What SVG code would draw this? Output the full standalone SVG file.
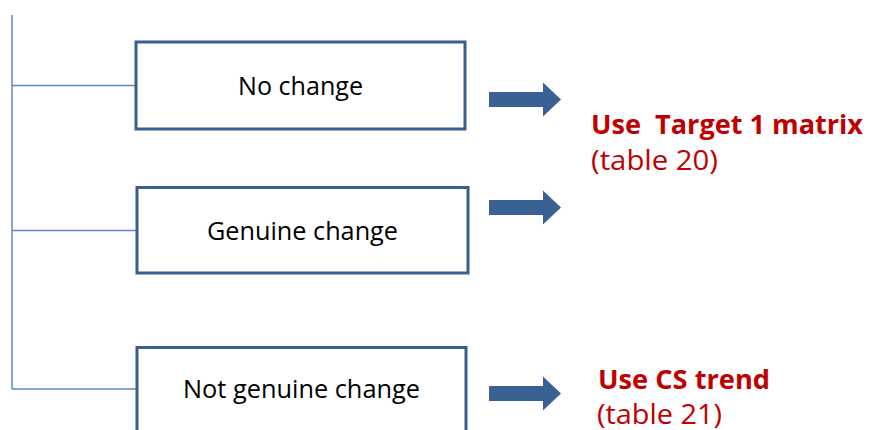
<svg xmlns="http://www.w3.org/2000/svg" width="871" height="430" viewBox="0 0 871 430">
<style>
.box{fill:#ffffff;stroke:#3a5f8e;stroke-width:3}
.conn{fill:none;stroke:#5b8ac6;stroke-width:1.5}
.arrow{fill:#3a6194}
.lbl{font-family:"Open Sans","Noto Sans",sans-serif;font-size:25px;fill:#000000;text-anchor:middle}
.res{font-family:"Open Sans","Noto Sans",sans-serif;font-size:27px;fill:#c00000}
.b{font-weight:bold}
</style>
<defs>
<path id="arr" d="M0,-7.5 H54 V-17 L72,0 L54,17 V7.5 H0 Z"/>
</defs>
<rect width="871" height="430" fill="#ffffff"/>
<g id="connectors">
<path class="conn" d="M12,15 V389"/>
<path class="conn" d="M12,85.5 H135"/>
<path class="conn" d="M12,230.5 H136"/>
<path class="conn" d="M12,389 H136"/>
<use href="#arr" class="arrow" x="489" y="99.5"/>
<use href="#arr" class="arrow" x="489" y="207.5"/>
<use href="#arr" class="arrow" x="489" y="393.5"/>
</g>
<g id="node-no-change">
<rect class="box" x="136" y="42" width="329" height="87"/>
<text class="lbl" x="300.5" y="95" textLength="125" lengthAdjust="spacingAndGlyphs">No change</text>
</g>
<g id="node-genuine-change">
<rect class="box" x="137" y="187.5" width="331" height="85.5"/>
<text class="lbl" x="302.5" y="239.5" textLength="191" lengthAdjust="spacingAndGlyphs">Genuine change</text>
</g>
<g id="node-not-genuine-change">
<rect class="box" x="137" y="347.5" width="329" height="100"/>
<text class="lbl" x="301.5" y="398" textLength="237" lengthAdjust="spacingAndGlyphs">Not genuine change</text>
</g>
<g id="result-target">
<text class="res b" x="591" y="134" textLength="272" lengthAdjust="spacingAndGlyphs" xml:space="preserve">Use  Target 1 matrix</text>
<text class="res" x="591" y="170" textLength="127" lengthAdjust="spacingAndGlyphs">(table 20)</text>
</g>
<g id="result-cs">
<text class="res b" x="598" y="389" textLength="172" lengthAdjust="spacingAndGlyphs">Use CS trend</text>
<text class="res" x="597" y="424" textLength="125" lengthAdjust="spacingAndGlyphs">(table 21)</text>
</g>
</svg>
